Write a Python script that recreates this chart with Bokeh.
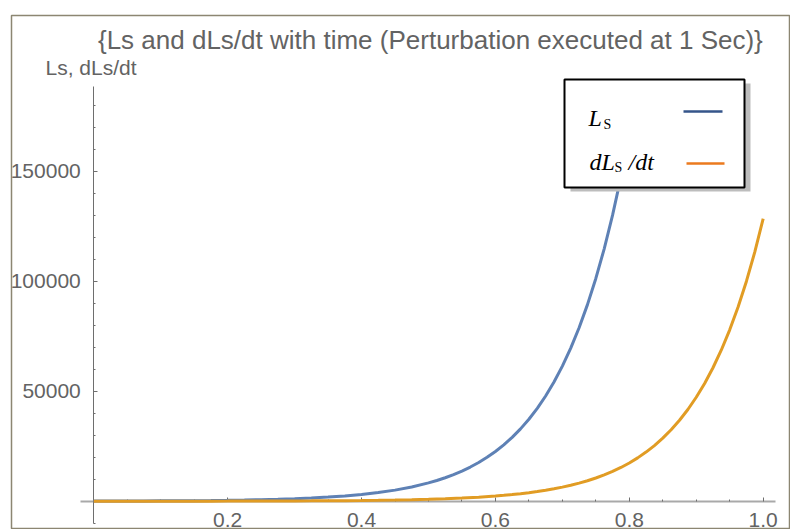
from bokeh.plotting import figure
from bokeh.models import Range1d, FixedTicker, Label, BoxAnnotation
from bokeh.embed import file_html
from bokeh.resources import INLINE

# ---- data ----
t_ls = [0.0, 0.025, 0.05, 0.075, 0.1, 0.125, 0.15, 0.175, 0.2, 0.225,
        0.25, 0.275, 0.3, 0.325, 0.35, 0.375, 0.4, 0.425, 0.45, 0.475,
        0.5, 0.5125, 0.525, 0.5375, 0.55, 0.5625, 0.575, 0.5875, 0.6, 0.6125,
        0.625, 0.6375, 0.65, 0.6625, 0.675, 0.6875, 0.7, 0.7125, 0.725, 0.7375,
        0.75, 0.7625, 0.775, 0.7875, 0.8]
ls_values = [56, 72, 92, 118, 152, 196, 251, 322, 414, 531,
             682, 875, 1125, 1444, 1854, 2380, 3058, 3926, 5040, 6472,
             8311, 9418, 10672, 12093, 13703, 15527, 17595, 19937, 22592, 25600,
             29009, 32870, 37248, 42207, 47827, 54196, 61411, 69588, 78854, 89354,
             101250, 114732, 130008, 147319, 166934]

t_dls = [0.0, 0.025, 0.05, 0.075, 0.1, 0.125, 0.15, 0.175, 0.2, 0.225,
         0.25, 0.275, 0.3, 0.325, 0.35, 0.375, 0.4, 0.425, 0.45, 0.475,
         0.5, 0.525, 0.55, 0.575,
         0.6, 0.6125, 0.625, 0.6375, 0.65, 0.6625, 0.675, 0.6875, 0.7, 0.7125,
         0.725, 0.7375, 0.75, 0.7625, 0.775, 0.7875, 0.8, 0.8125, 0.825, 0.8375,
         0.85, 0.8625, 0.875, 0.8875, 0.9, 0.9125, 0.925, 0.9375, 0.95, 0.9625,
         0.975, 0.9875, 1.0]
dls_values = [6, 7.5, 9.6, 12.3, 15.8, 20.4, 26.1, 33.5, 43.1, 55.3,
              71, 91, 117, 150, 193, 248, 318, 409, 525, 674,
              865, 1111, 1427, 1832,
              2352, 2665, 3020, 3422, 3878, 4394, 4979, 5642, 6393, 7245,
              8209, 9302, 10541, 11944, 13535, 15337, 17379, 19693, 22315, 25286,
              28653, 32468, 36791, 41690, 47241, 53531, 60659, 68735, 77887, 88258,
              100009, 113325, 128414]

x_ticks = [0.2, 0.4, 0.6, 0.8, 1.0]
x_tick_labels = ["0.2", "0.4", "0.6", "0.8", "1.0"]
x_minor_ticks = [0.05, 0.1, 0.15, 0.25, 0.3, 0.35, 0.45, 0.5, 0.55,
                 0.65, 0.7, 0.75, 0.85, 0.9, 0.95]
y_ticks = [50000, 100000, 150000]
y_tick_labels = ["50000", "100000", "150000"]
y_minor_ticks = [-10000, 10000, 20000, 30000, 40000, 60000, 70000, 80000, 90000,
                 110000, 120000, 130000, 140000, 160000, 170000, 180000]

title_text = "{Ls and dLs/dt with time (Perturbation  executed at 1 Sec)}"
y_label_text = "Ls, dLs/dt"

# ---- figure ----
p = figure(width=790, height=529, output_backend="svg", toolbar_location=None,
           x_range=Range1d(-0.1229, 1.0408), y_range=Range1d(-12864, 220773),
           min_border_left=11, min_border_top=15, min_border_right=0, min_border_bottom=0)

p.background_fill_color = "white"
p.border_fill_color = "white"
p.outline_line_color = "#8c8672"
p.outline_line_width = 1.5
p.grid.visible = False

label_font = "Liberation Sans"
label_color = "#636363"

# x axis
xa = p.xaxis[0]
xa.fixed_location = 0
xa.bounds = (-0.02, 1.018)
xa.ticker = FixedTicker(ticks=x_ticks, minor_ticks=x_minor_ticks)
xa.major_label_overrides = {k: v for k, v in zip(x_ticks, x_tick_labels)}
xa.axis_line_color = "#a9a9a9"
xa.axis_line_width = 2
xa.major_tick_line_color = "#6e6e6e"
xa.minor_tick_line_color = "#6e6e6e"
xa.major_tick_in = 4
xa.major_tick_out = 0
xa.minor_tick_in = 2
xa.minor_tick_out = 0
xa.major_label_standoff = 12
xa.major_label_text_font = label_font
xa.major_label_text_font_size = "21px"
xa.major_label_text_color = label_color
xa.level = "underlay"

# y axis
ya = p.yaxis[0]
ya.fixed_location = 0
ya.bounds = (-10136, 188500)
ya.ticker = FixedTicker(ticks=y_ticks, minor_ticks=y_minor_ticks)
ya.major_label_overrides = {k: v for k, v in zip(y_ticks, y_tick_labels)}
ya.axis_line_color = "#6e6e6e"
ya.axis_line_width = 1
ya.major_tick_line_color = "#6e6e6e"
ya.minor_tick_line_color = "#6e6e6e"
ya.major_tick_in = 4
ya.major_tick_out = 0
ya.minor_tick_in = 2
ya.minor_tick_out = 0
ya.major_label_standoff = 13
ya.major_label_text_font = label_font
ya.major_label_text_font_size = "21px"
ya.major_label_text_color = label_color
ya.level = "underlay"

# curves
p.line(t_ls, ls_values, line_color="#5E81B5", line_width=3)
p.line(t_dls, dls_values, line_color="#E19C24", line_width=3)

# title and axis label (screen units relative to the plot frame)
p.add_layout(Label(x=422.5, y=489.5, x_units="screen", y_units="screen",
                   text=title_text, text_align="center", text_baseline="alphabetic",
                   text_font=label_font, text_font_size="26px", text_color=label_color))
p.add_layout(Label(x=34, y=462, x_units="screen", y_units="screen",
                   text=y_label_text, text_align="left", text_baseline="alphabetic",
                   text_font=label_font, text_font_size="21px", text_color=label_color))

# legend (custom, Mathematica style with shadow)
def box(left, right, top, bottom, **kw):
    return BoxAnnotation(left=left, right=right, top=top, bottom=bottom,
                         left_units="screen", right_units="screen",
                         top_units="screen", bottom_units="screen", **kw)

p.add_layout(box(559, 739, 446, 338, fill_color="#bdbdbd", fill_alpha=1.0, line_color=None))
p.add_layout(box(553, 733, 450, 342, fill_color="white", fill_alpha=1.0,
                 line_color="black", line_width=2, line_alpha=1.0))
p.add_layout(box(672, 711, 419.2, 416.8, fill_color="#35558A", fill_alpha=1.0, line_color=None))
p.add_layout(box(675, 713, 367.2, 364.8, fill_color="#EB7A1E", fill_alpha=1.0, line_color=None))

serif = "Liberation Serif"
for x, y, txt, size, style in [
    (577, 412, "L", "24px", "italic"),
    (592, 405.5, "S", "14px", "normal"),
    (578, 368, "dL", "24px", "italic"),
    (603, 362, "S", "14px", "normal"),
    (617, 368, "/dt", "24px", "italic"),
]:
    p.add_layout(Label(x=x, y=y, x_units="screen", y_units="screen", text=txt,
                       text_align="left", text_baseline="alphabetic",
                       text_font=serif, text_font_size=size, text_font_style=style,
                       text_color="black"))

open("out.html", "w").write(file_html(p, INLINE))
